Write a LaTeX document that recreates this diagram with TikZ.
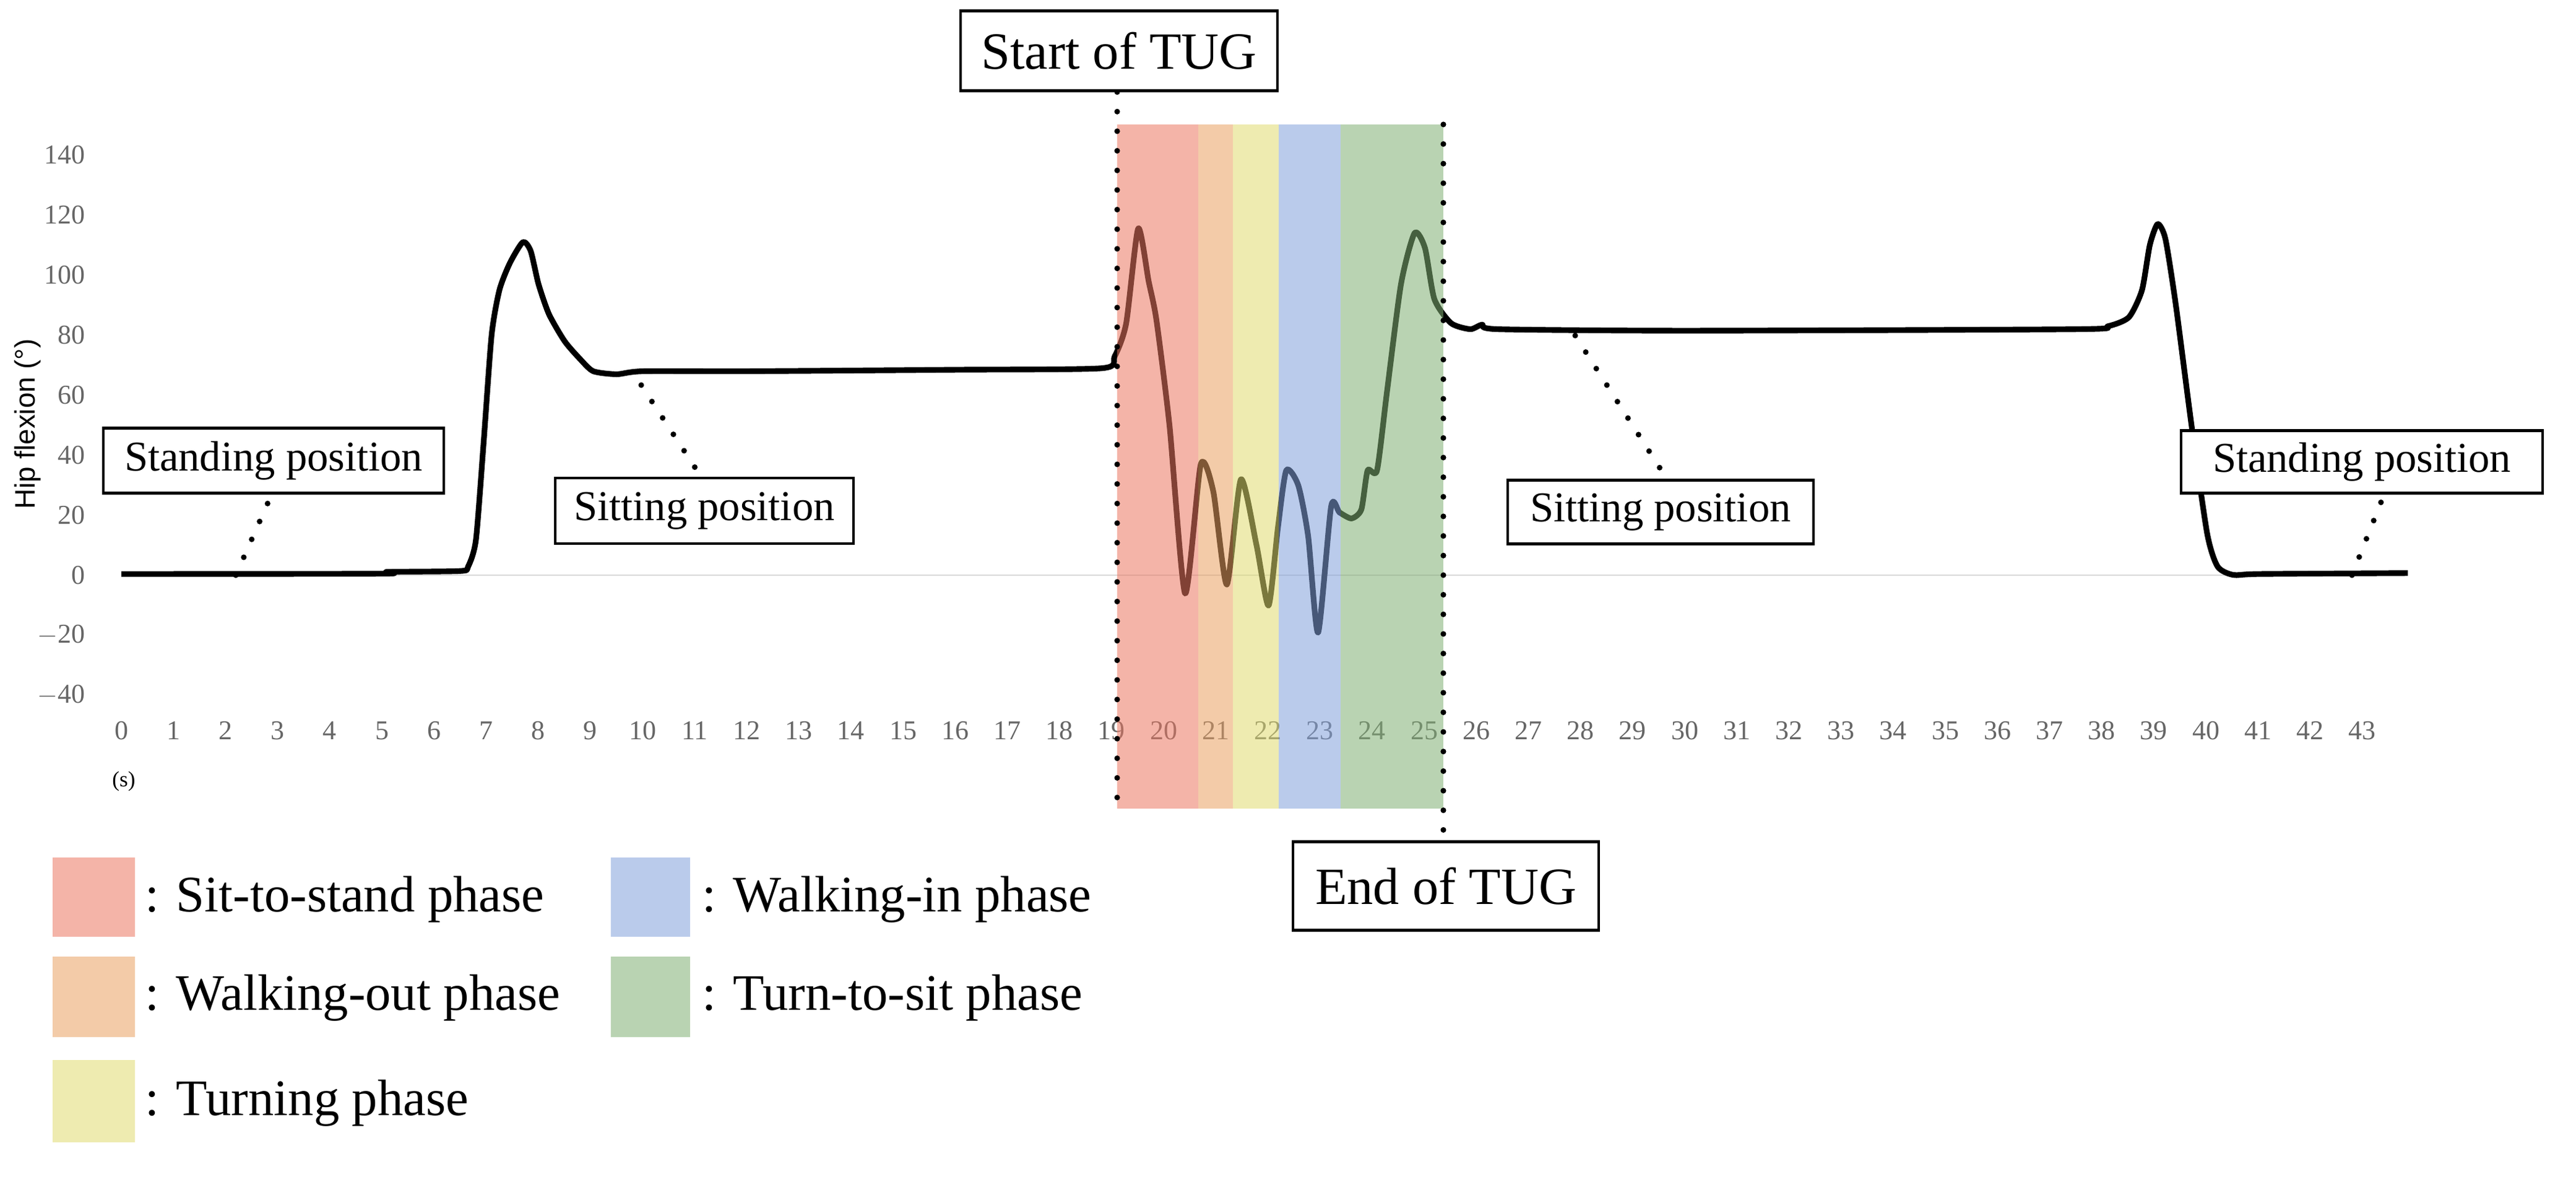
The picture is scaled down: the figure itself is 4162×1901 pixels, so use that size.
\documentclass[tikz,border=0pt]{standalone}
\usepackage{fontspec}
\setmainfont{Liberation Serif}
\newfontfamily\axsans{Liberation Sans}
\begin{document}
\begin{tikzpicture}[x=0.01cm,y=-0.01cm,
  lbl/.style={draw,line width=1.2pt,fill=white,inner sep=0pt,font=\fontsize{19.5}{21}\selectfont},
  big/.style={draw,line width=1.2pt,fill=white,inner sep=0pt,font=\fontsize{24}{28}\selectfont},
  lead/.style={line width=2.6pt,dash pattern=on 0pt off 9pt,line cap=round},
  tick/.style={text=black!60,font=\fontsize{12.5}{14}\selectfont},
  leg/.style={anchor=west,font=\fontsize{23.5}{26}\selectfont},
  band/.style={opacity=0.55}]
\useasboundingbox (0,0) rectangle (4162,1901);
\definecolor{cR}{RGB}{235,119,97}
\definecolor{cO}{RGB}{233,160,97}
\definecolor{cY}{RGB}{224,219,112}
\definecolor{cB}{RGB}{130,161,219}
\definecolor{cG}{RGB}{128,175,115}
% zero line
\draw[black!15,line width=0.8pt] (196,929) -- (3890,929);
% y ticks
\foreach \v [count=\i from 0] in {140,120,100,80,60,40,20,0,-20,-40}
  \node[tick,anchor=east] (yt\i) at (150,{929-(\v)*4.85}) {\ifnum\v<0 $-$\the\numexpr-\v\relax\else\v\fi};
% x ticks
\foreach \s in {0,...,43}
  \node[tick] (xt\s) at ({196+84.2*\s},1180) {\s};
\node[font=\fontsize{10}{12}\selectfont] (unit) at (200,1262) {(s)};
\node[rotate=90,font=\axsans\fontsize{13}{15}\selectfont] (ytitle) at (45,685) {Hip flexion (°)};
% curve
\begin{scope}[shift={(1.96cm,-9.29cm)},x=0.842cm,y=0.0485cm]
\draw[line width=2.6pt,line join=round] plot[smooth,tension=0.4] coordinates {
 (0,0.5) (5,0.6) (5.1,1.2) (6.5,1.5) (6.65,3) (6.8,12) (6.95,45) (7.1,80) (7.25,95) (7.45,104) (7.7,111) (7.85,108) (8.0,97) (8.2,87) (8.5,78) (8.8,72) (9.05,68) (9.5,67) (10,68) (12,68) (16,68.5) (18.8,69) (19.05,73) (19.27,84) (19.5,115.5) (19.7,98) (19.85,85) (20.1,50) (20.4,-6) (20.7,37) (20.94,28) (21.2,-3) (21.47,32) (21.77,10) (22.0,-10) (22.18,16) (22.34,35) (22.57,30) (22.76,13) (22.95,-19) (23.2,23) (23.36,21) (23.59,19) (23.78,22) (23.9,35) (24.08,35) (24.27,61) (24.54,97) (24.8,114) (25.0,109) (25.18,92) (25.5,84) (25.87,82) (26.1,83.5) (26.4,82) (30,81.5) (37.5,82) (38.1,83) (38.5,86) (38.75,95) (38.9,110) (39.05,117) (39.2,112) (39.4,90) (39.7,50) (40.0,14) (40.2,3) (40.5,0.2) (41,0.5) (43.85,0.8)};
\end{scope}
% bands
\fill[cR,band] (1805,201) rectangle (1936,1306);
\fill[cO,band] (1936,201) rectangle (1992,1306);
\fill[cY,band] (1992,201) rectangle (2066,1306);
\fill[cB,band] (2066,201) rectangle (2166,1306);
\fill[cG,band] (2166,201) rectangle (2332,1306);
% labels
\node[big,minimum width=5.11cm,minimum height=1.29cm] (start) at (1808,82) {Start of TUG};
\node[big,minimum width=4.93cm,minimum height=1.43cm] (end) at (2336,1431) {End of TUG};
\coordinate (sB) at (1805,1306);
\coordinate (eT) at (2332,201);
\draw[lead] (start.south -| sB) -- (sB);
\draw[lead] (eT) -- (end.north -| eT);
\node[lbl,minimum width=5.49cm,minimum height=1.05cm] (stL) at (442,744) {Standing position};
\node[lbl,minimum width=4.82cm,minimum height=1.06cm] (siL) at (1138,825) {Sitting position};
\node[lbl,minimum width=4.94cm,minimum height=1.03cm] (siR) at (2683,827) {Sitting position};
\node[lbl,minimum width=5.84cm,minimum height=1.01cm] (stR) at (3816,746) {Standing position};
\coordinate (p1) at (381,929);
\coordinate (p2) at (1036,622);
\coordinate (p3) at (2545,542);
\coordinate (p4) at (3800,929);
\draw[lead] (p1) -- (440,796);
\draw[lead] (p2) -- (1134,772);
\draw[lead] (p3) -- (2694,775);
\draw[lead] (p4) -- (3853,796);
% legend
\fill[cR,band] (85,1385) rectangle (218,1513);
\fill[cO,band] (85,1545) rectangle (218,1675);
\fill[cY,band] (85,1712) rectangle (218,1845);
\fill[cB,band] (987,1385) rectangle (1115,1513);
\fill[cG,band] (987,1545) rectangle (1115,1675);
\node[leg] (l1) at (222,1453) {: Sit-to-stand phase};
\node[leg] (l2) at (222,1612) {: Walking-out phase};
\node[leg] (l3) at (222,1782) {: Turning phase};
\node[leg] (l4) at (1122,1453) {: Walking-in phase};
\node[leg] (l5) at (1122,1612) {: Turn-to-sit phase};
\end{tikzpicture}
\end{document}
